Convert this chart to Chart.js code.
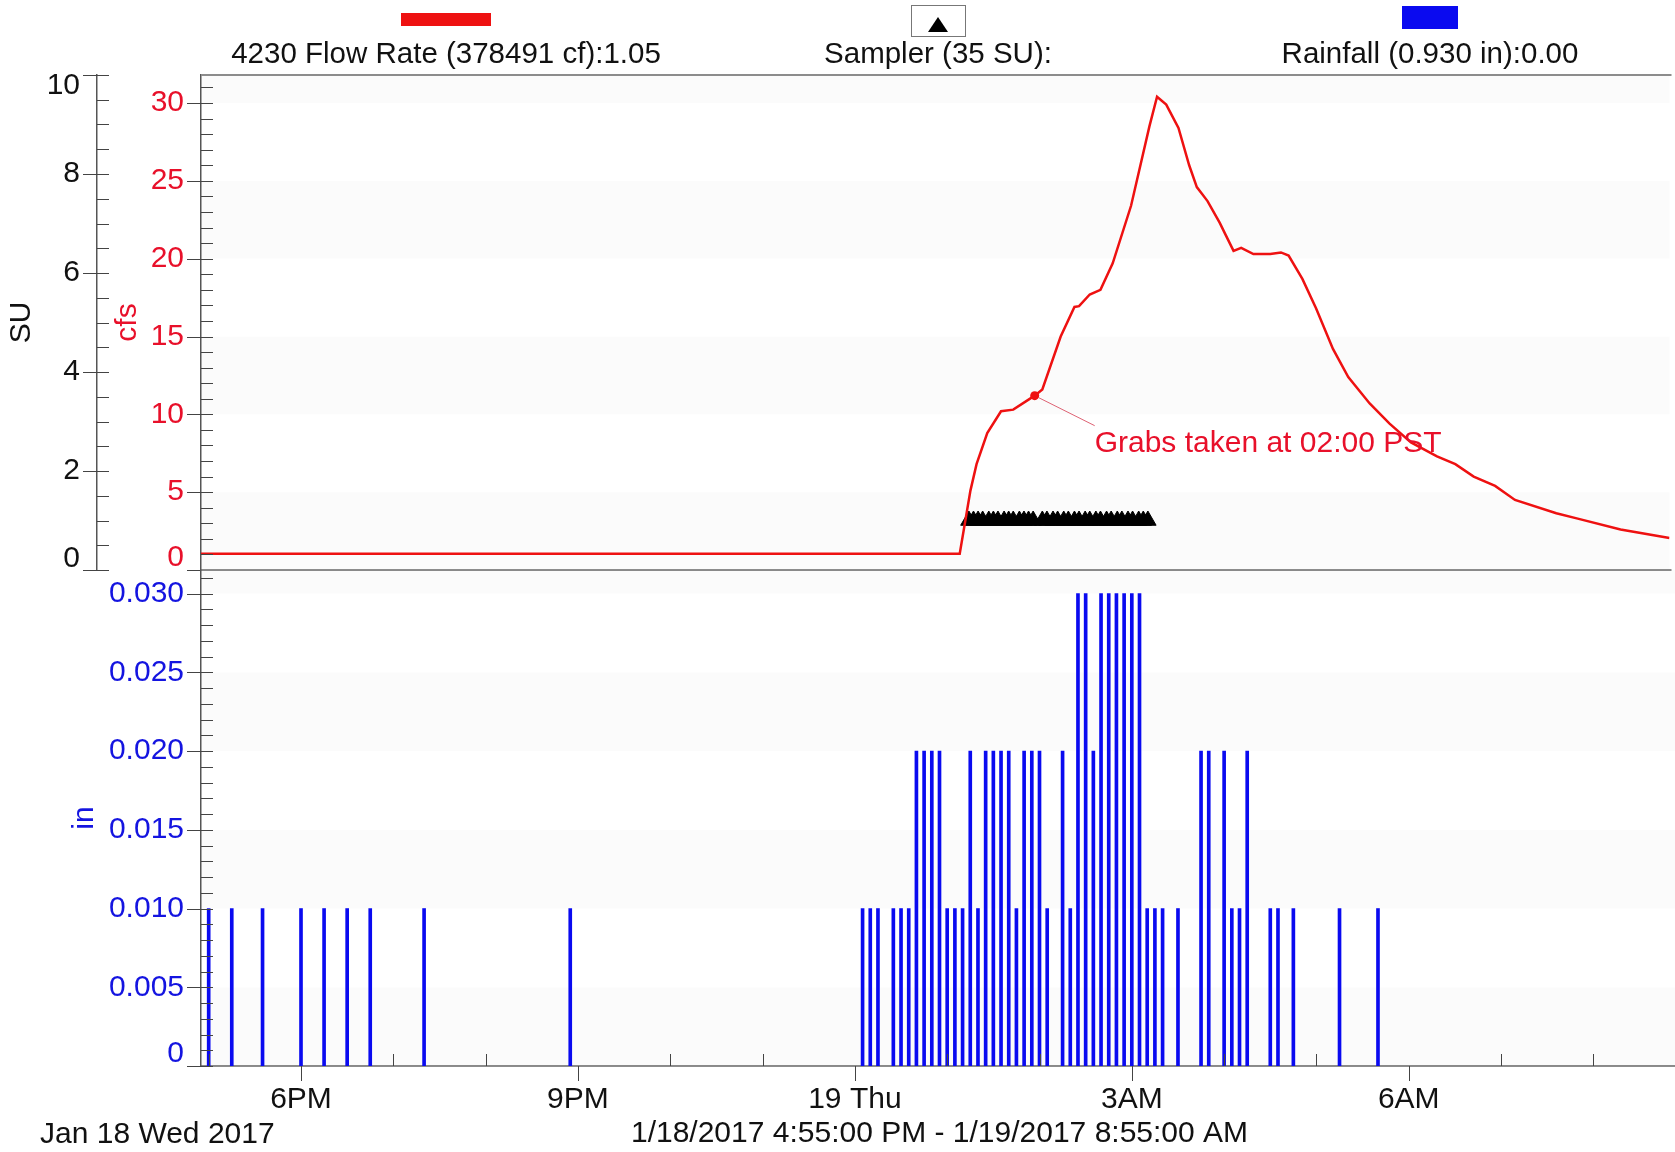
<!DOCTYPE html>
<html>
<head>
<meta charset="utf-8">
<title>4230 Flow Rate, Sampler and Rainfall</title>
<script src="https://cdn.jsdelivr.net/npm/chart.js@4.4.0/dist/chart.umd.min.js"></script>
<style>
  body { margin: 0; background: #fff; overflow: hidden; }
  #wrap { position: relative; width: 1675px; height: 1152px; overflow: hidden;
          font-family: 'Liberation Sans', Arial, sans-serif; color: #111; }
  canvas { position: absolute; left: 0; top: 0; }
  .item { position: absolute; top: 0; width: 520px; margin-left: -260px; height: 80px; }
  .item .label { position: absolute; left: 0; right: 0; top: 36px; text-align: center;
                 font-size: 29.5px; line-height: 34px; white-space: nowrap; }
  .swatch { position: absolute; left: 50%; }
  .tri { position: absolute; left: 16px; top: 11px; width: 0; height: 0;
         border-left: 10.5px solid transparent; border-right: 10.5px solid transparent;
         border-bottom: 15px solid #000; }
  #day { position: absolute; left: 40px; top: 1115px; font-size: 30px; line-height: 36px; white-space: nowrap; }
</style>
</head>
<body>
<div id="wrap">
  <canvas id="upper" width="1680" height="1152"></canvas>
  <canvas id="lower" width="1680" height="1152"></canvas>

  <div class="item" style="left:446px">
    <div class="swatch" style="top:13px;width:90px;height:13px;margin-left:-45px;background:#ee1111"></div>
    <div class="label" id="flowLabel"></div>
  </div>
  <div class="item" style="left:938px">
    <div class="swatch" style="top:5px;width:53px;height:30px;margin-left:-27px;border:1px solid #777;background:#fff"><div class="tri"></div></div>
    <div class="label" id="samplerLabel"></div>
  </div>
  <div class="item" style="left:1430px">
    <div class="swatch" style="top:6px;width:56px;height:23px;margin-left:-28px;background:#0a0af0"></div>
    <div class="label" id="rainLabel"></div>
  </div>
  <div id="day">Jan 18 Wed 2017</div>
</div>

<script>
const FONT = "'Liberation Sans', Arial, sans-serif";
const RED = '#ee1111';
const RED_TEXT = '#e8102a';
const BLUE = '#0a0af0';
const BLUE_TEXT = '#1414e0';
const AXIS = '#555';
const FRAME = '#8c8c8c';

// legend texts
const flowLabel = '4230 Flow Rate (378491 cf):1.05';
const samplerLabel = 'Sampler (35 SU):';
const rainLabel = 'Rainfall (0.930 in):0.00';

// 4230 flow rate, cfs
const flowTimes = ['16:55', '20:00', '23:00', '01:11', '01:18', '01:22', '01:29', '01:38', '01:46', '02:00',
  '02:05', '02:17', '02:26', '02:29', '02:36', '02:43', '02:51', '03:03', '03:15', '03:20',
  '03:26', '03:34', '03:41', '03:46', '03:53', '04:01', '04:05', '04:10', '04:15', '04:23',
  '04:34', '04:41', '04:46', '04:55', '05:04', '05:15', '05:25', '05:39', '05:52', '06:06',
  '06:23', '06:35', '06:47', '07:01', '07:14', '07:41', '07:55', '08:23', '08:55'];
const flowCfs = [1.05, 1.05, 1.05, 1.05, 5.1, 6.8, 8.8, 10.2, 10.3, 11.2,
  11.6, 15.0, 16.9, 16.95, 17.7, 18.0, 19.7, 23.4, 28.5, 30.4,
  29.9, 28.4, 26.0, 24.6, 23.7, 22.3, 21.5, 20.5, 20.7, 20.3,
  20.3, 20.4, 20.2, 18.7, 16.8, 14.2, 12.4, 10.7, 9.4, 8.2,
  7.3, 6.8, 6.0, 5.4, 4.5, 3.65, 3.3, 2.6, 2.05];

// sampler bottles (35), plotted at 1 SU
const samplerTimes = ['01:17', '01:20', '01:23', '01:26', '01:30', '01:33', '01:36', '01:40', '01:43', '01:46',
  '01:50', '01:53', '01:56', '01:59', '02:05', '02:08', '02:12', '02:15', '02:19', '02:22',
  '02:26', '02:29', '02:33', '02:36', '02:40', '02:43', '02:47', '02:50', '02:54', '02:57',
  '03:01', '03:04', '03:08', '03:11', '03:14'];
const samplerSU = 1;

// rainfall, inches per 5 min
const rainTimes = ['17:00', '17:15', '17:35', '18:00', '18:15', '18:30', '18:45', '19:20', '20:55',
  '00:05', '00:10', '00:15', '00:25', '00:30', '00:35', '00:40', '00:45', '00:50', '00:55',
  '01:00', '01:05', '01:10', '01:15', '01:20', '01:25', '01:30', '01:35', '01:40', '01:45', '01:50', '01:55',
  '02:00', '02:05', '02:15', '02:20', '02:25', '02:30', '02:35', '02:40', '02:45', '02:50', '02:55',
  '03:00', '03:05', '03:10', '03:15', '03:20', '03:30', '03:45', '03:50',
  '04:00', '04:05', '04:10', '04:15', '04:30', '04:35', '04:45', '05:15', '05:40'];
const rainInches = [0.01, 0.01, 0.01, 0.01, 0.01, 0.01, 0.01, 0.01, 0.01,
  0.01, 0.01, 0.01, 0.01, 0.01, 0.01, 0.02, 0.02, 0.02, 0.02,
  0.01, 0.01, 0.01, 0.02, 0.01, 0.02, 0.02, 0.02, 0.02, 0.01, 0.02, 0.02,
  0.02, 0.01, 0.02, 0.01, 0.03, 0.03, 0.02, 0.03, 0.03, 0.03, 0.03,
  0.03, 0.03, 0.01, 0.01, 0.01, 0.01, 0.02, 0.02,
  0.02, 0.01, 0.01, 0.02, 0.01, 0.01, 0.01, 0.01, 0.01];

// grab sample note
const grabTime = '02:00';
const grabCfs = 11.2;
const grabNote = 'Grabs taken at 02:00 PST';

// axes
const xStart = '16:55';
const xEnd = '08:55';
const xTickHours = [18, 21, 24, 27, 30];
const xTickLabels = ['6PM', '9PM', '19 Thu', '3AM', '6AM'];
const rangeLabel = '1/18/2017 4:55:00 PM - 1/19/2017 8:55:00 AM';
const suTicks = [0, 2, 4, 6, 8, 10];
const cfsTicks = [0, 5, 10, 15, 20, 25, 30];
const inTicks = [0, 0.005, 0.01, 0.015, 0.02, 0.025, 0.03];

document.getElementById('flowLabel').textContent = flowLabel;
document.getElementById('samplerLabel').textContent = samplerLabel;
document.getElementById('rainLabel').textContent = rainLabel;

// clock time -> hours since midnight Jan 18 (morning times are on the 19th)
function hours(t) {
  const [h, m] = t.split(':').map(Number);
  return (h < 12 ? h + 24 : h) + m / 60;
}

Chart.defaults.font.family = FONT;

// faint bands between every other major tick
const bands = {
  id: 'bands',
  beforeDatasetsDraw(chart, args, opts) {
    const s = chart.scales[opts.axis];
    const {left, right} = chart.chartArea;
    const ctx = chart.ctx;
    ctx.save();
    ctx.fillStyle = 'rgba(0,0,0,0.016)';
    for (let i = 0; i < opts.ticks.length; i += 2) {
      const a = s.getPixelForValue(opts.ticks[i]);
      const b = s.getPixelForValue(i + 1 < opts.ticks.length ? opts.ticks[i + 1] : s.max);
      ctx.fillRect(left, b, right - left, a - b);
    }
    ctx.restore();
  }
};

// major ticks cross the axis line, minor ticks point into the plot
const tickMarks = {
  id: 'tickMarks',
  afterDraw(chart, args, opts) {
    const ctx = chart.ctx;
    ctx.save();
    ctx.strokeStyle = '#444';
    ctx.lineWidth = 1;
    ctx.beginPath();
    for (const [id, spec] of Object.entries(opts.axes)) {
      const s = chart.scales[id];
      const perMajor = Math.round(spec.major / spec.minor);
      const first = Math.ceil(s.min / spec.minor - 1e-6);
      const last = Math.floor(s.max / spec.minor + 1e-6);
      for (let i = first; i <= last; i++) {
        const major = i % perMajor === 0;
        const p = Math.round(s.getPixelForValue(i * spec.minor)) + 0.5;
        if (s.isHorizontal()) {
          const y = s.top;
          if (major) { ctx.moveTo(p, y); ctx.lineTo(p, y + 15); }
          else { ctx.moveTo(p, y - 12); ctx.lineTo(p, y); }
        } else {
          const x = s.right;
          ctx.moveTo(major ? x - 14 : x, p);
          ctx.lineTo(x + 12, p);
        }
      }
    }
    ctx.stroke();
    ctx.restore();
  }
};

// top border and the divider between the two panels
const frame = {
  id: 'frame',
  afterDraw(chart) {
    const {left, right, top, bottom} = chart.chartArea;
    const ctx = chart.ctx;
    ctx.save();
    ctx.strokeStyle = FRAME;
    ctx.lineWidth = 2;
    ctx.beginPath();
    ctx.moveTo(left, top); ctx.lineTo(right + 2, top);
    ctx.moveTo(left, bottom); ctx.lineTo(right + 2, bottom);
    ctx.stroke();
    ctx.restore();
  }
};

// leader line and text for the grab point
const grabLabel = {
  id: 'grabLabel',
  afterDatasetsDraw(chart) {
    const pt = chart.getDatasetMeta(1).data[0];
    const ctx = chart.ctx;
    ctx.save();
    ctx.strokeStyle = 'rgba(215,70,90,0.85)';
    ctx.lineWidth = 1;
    ctx.beginPath();
    ctx.moveTo(pt.x + 4, pt.y + 2);
    ctx.lineTo(pt.x + 60, pt.y + 30);
    ctx.stroke();
    ctx.fillStyle = RED_TEXT;
    ctx.font = '30px ' + FONT;
    ctx.textBaseline = 'alphabetic';
    ctx.fillText(grabNote, pt.x + 60, pt.y + 56);
    ctx.restore();
  }
};

function fixedTicks(values) {
  return s => { s.ticks = values.map(v => ({value: v})); };
}

new Chart(document.getElementById('upper'), {
  type: 'line',
  data: {
    datasets: [
      {
        label: 'Flow Rate',
        data: flowTimes.map((t, i) => ({x: hours(t), y: flowCfs[i]})),
        yAxisID: 'cfs',
        borderColor: RED,
        borderWidth: 2.5,
        pointRadius: 0,
        tension: 0
      },
      {
        label: 'Grab',
        data: [{x: hours(grabTime), y: grabCfs}],
        yAxisID: 'cfs',
        showLine: false,
        pointRadius: 4.5,
        pointBackgroundColor: RED,
        pointBorderWidth: 0
      },
      {
        label: 'Sampler',
        data: samplerTimes.map(t => ({x: hours(t), y: samplerSU})),
        yAxisID: 'su',
        showLine: false,
        pointStyle: 'triangle',
        pointRadius: 9.5,
        pointBackgroundColor: '#000',
        pointBorderColor: '#000',
        pointBorderWidth: 1
      }
    ]
  },
  options: {
    responsive: false,
    animation: false,
    events: [],
    layout: {padding: {top: 75, bottom: 582, left: 0, right: 2}},
    plugins: {
      legend: {display: false},
      tooltip: {enabled: false},
      bands: {axis: 'cfs', ticks: cfsTicks},
      tickMarks: {axes: {cfs: {major: 5, minor: 1}, su: {major: 2, minor: 0.5}}}
    },
    scales: {
      x: {type: 'linear', display: false, min: hours(xStart), max: hours(xEnd)},
      cfs: {
        position: 'left',
        weight: 0,
        min: 0,
        max: 31.8,
        afterBuildTicks: fixedTicks(cfsTicks),
        afterFit: s => { s.width = 104; },
        grid: {display: false, drawTicks: false},
        border: {display: true, color: AXIS, width: 1.5},
        ticks: {
          autoSkip: false,
          padding: 17,
          color: RED_TEXT,
          font: {size: 30, lineHeight: '24px'},
          callback: v => v === 0 ? ['0', ''] : String(v)
        },
        title: {display: true, text: 'cfs', color: RED_TEXT, font: {size: 30}, padding: {top: 13, bottom: 0}}
      },
      su: {
        position: 'left',
        weight: 1,
        min: 0,
        max: 10,
        afterBuildTicks: fixedTicks(suTicks),
        afterFit: s => { s.width = 97; },
        grid: {display: false, drawTicks: false},
        border: {display: true, color: AXIS, width: 1.5},
        ticks: {
          autoSkip: false,
          padding: 17,
          color: '#111',
          font: {size: 30, lineHeight: '22px'},
          callback: v => v === 0 ? ['0', ''] : (v === 10 ? ['', '10'] : String(v))
        },
        title: {display: true, text: 'SU', color: '#111', font: {size: 30}, padding: {top: 4, bottom: 0}}
      }
    }
  },
  plugins: [bands, tickMarks, frame, grabLabel]
});

new Chart(document.getElementById('lower'), {
  type: 'bar',
  data: {
    datasets: [{
      label: 'Rainfall',
      data: rainTimes.map((t, i) => ({x: hours(t), y: rainInches[i]})),
      yAxisID: 'in',
      backgroundColor: BLUE,
      barThickness: 3
    }]
  },
  options: {
    responsive: false,
    animation: false,
    events: [],
    layout: {padding: {top: 570, bottom: 0, left: 0, right: 2}},
    plugins: {
      legend: {display: false},
      tooltip: {enabled: false},
      bands: {axis: 'in', ticks: inTicks},
      tickMarks: {axes: {in: {major: 0.005, minor: 0.001}, x: {major: 3, minor: 1}}}
    },
    scales: {
      x: {
        type: 'linear',
        offset: false,
        min: hours(xStart),
        max: hours(xEnd),
        afterBuildTicks: fixedTicks(xTickHours),
        afterFit: s => { s.height = 86; },
        grid: {display: false, drawTicks: false},
        border: {display: true, color: FRAME, width: 2},
        ticks: {
          autoSkip: false,
          maxRotation: 0,
          padding: 16,
          color: '#111',
          font: {size: 30},
          callback: v => xTickLabels[xTickHours.indexOf(v)]
        },
        title: {display: true, text: rangeLabel, color: '#111', font: {size: 30}, padding: {top: 0, bottom: 0}}
      },
      in: {
        position: 'left',
        min: 0,
        max: 0.0315,
        afterBuildTicks: fixedTicks(inTicks),
        afterFit: s => { s.width = 201; },
        grid: {display: false, drawTicks: false},
        border: {display: true, color: AXIS, width: 1.5},
        ticks: {
          autoSkip: false,
          padding: 17,
          color: BLUE_TEXT,
          font: {size: 30, lineHeight: '24px'},
          callback: v => v === 0 ? ['0', ''] : v.toFixed(3)
        },
        title: {display: true, text: 'in', color: BLUE_TEXT, font: {size: 30}, padding: {top: 67, bottom: 0}}
      }
    }
  },
  plugins: [bands, tickMarks]
});
</script>
</body>
</html>
